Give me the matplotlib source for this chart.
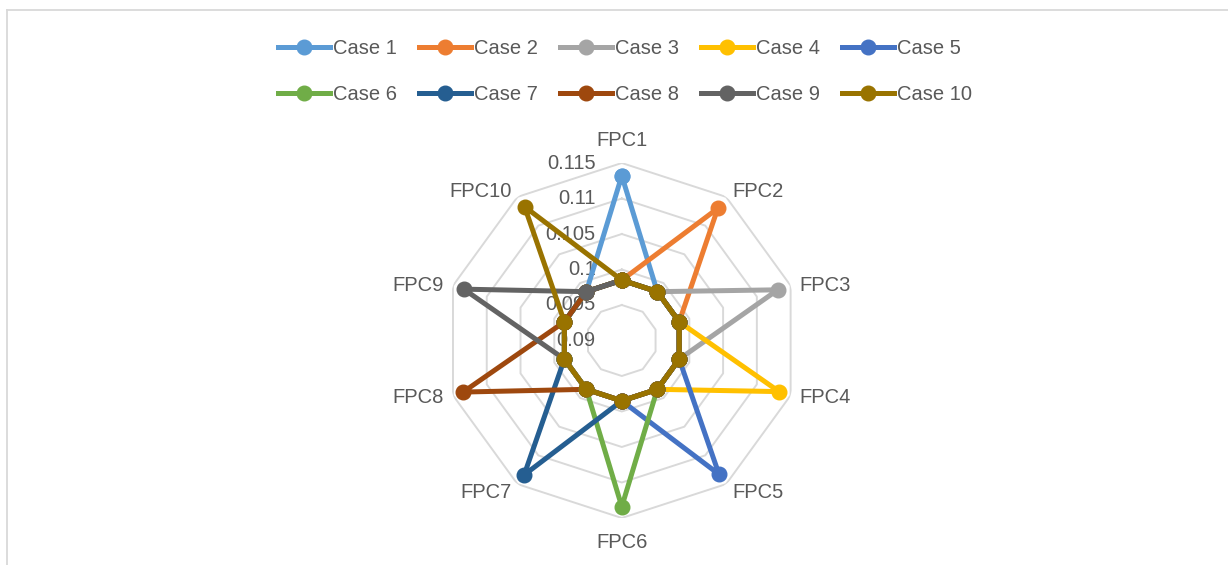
import numpy as np
import matplotlib.pyplot as plt
from matplotlib.lines import Line2D

plt.rcParams['font.family'] = ['Liberation Sans', 'DejaVu Sans']

categories = ['FPC1', 'FPC2', 'FPC3', 'FPC4', 'FPC5',
              'FPC6', 'FPC7', 'FPC8', 'FPC9', 'FPC10']

case1 = [0.1132, 0.0985, 0.0985, 0.0985, 0.0985, 0.0985, 0.0985, 0.0985, 0.0985, 0.0985]
case2 = [0.0985, 0.1130, 0.0985, 0.0985, 0.0985, 0.0985, 0.0985, 0.0985, 0.0985, 0.0985]
case3 = [0.0985, 0.0985, 0.1131, 0.0985, 0.0985, 0.0985, 0.0985, 0.0985, 0.0985, 0.0985]
case4 = [0.0985, 0.0985, 0.0985, 0.1133, 0.0985, 0.0985, 0.0985, 0.0985, 0.0985, 0.0985]
case5 = [0.0985, 0.0985, 0.0985, 0.0985, 0.1133, 0.0985, 0.0985, 0.0985, 0.0985, 0.0985]
case6 = [0.0985, 0.0985, 0.0985, 0.0985, 0.0985, 0.1134, 0.0985, 0.0985, 0.0985, 0.0985]
case7 = [0.0985, 0.0985, 0.0985, 0.0985, 0.0985, 0.0985, 0.1134, 0.0985, 0.0985, 0.0985]
case8 = [0.0985, 0.0985, 0.0985, 0.0985, 0.0985, 0.0985, 0.0985, 0.1135, 0.0985, 0.0985]
case9 = [0.0985, 0.0985, 0.0985, 0.0985, 0.0985, 0.0985, 0.0985, 0.0985, 0.1134, 0.0985]
case10 = [0.0985, 0.0985, 0.0985, 0.0985, 0.0985, 0.0985, 0.0985, 0.0985, 0.0985, 0.1133]

series = [case1, case2, case3, case4, case5, case6, case7, case8, case9, case10]
names = ['Case 1', 'Case 2', 'Case 3', 'Case 4', 'Case 5',
         'Case 6', 'Case 7', 'Case 8', 'Case 9', 'Case 10']
colors = ['#5B9BD5', '#ED7D31', '#A5A5A5', '#FFC000', '#4472C4',
          '#70AD47', '#255E91', '#9E480E', '#636363', '#997300']

levels = [0.09, 0.095, 0.1, 0.105, 0.11, 0.115]
level_labels = ['0.09', '0.095', '0.1', '0.105', '0.11', '0.115']

text_color = '#595959'
grid_color = '#D9D9D9'
fs = 14.5

fig = plt.figure(figsize=(12.28, 5.65), dpi=100)

# chart area border (top and left edges)
fig.add_artist(Line2D([7 / 1228, 1], [1 - 9.5 / 565] * 2, color=grid_color, lw=1.3))
fig.add_artist(Line2D([7 / 1228] * 2, [0, 1 - 9.5 / 565], color=grid_color, lw=1.3))

ax = fig.add_axes([0.3618, 0.0832, 0.2891, 0.6283], projection='polar')
ax.set_theta_zero_location('N')
ax.set_theta_direction(-1)
ax.set_rlim(levels[0], levels[-1])
ax.grid(False)
ax.set_xticks([])
ax.set_yticks([])
ax.spines['polar'].set_visible(False)
ax.patch.set_alpha(0)

theta = np.linspace(0, 2 * np.pi, len(categories), endpoint=False)
theta_c = np.append(theta, theta[0])

# decagon gridlines
for lv in levels[1:]:
    ax.plot(theta_c, [lv] * len(theta_c), color=grid_color, lw=1.4, zorder=1)

# radial value labels, just left of the FPC1 spoke
for lv, lab in zip(levels, level_labels):
    ax.annotate(lab, xy=(0, lv), xytext=(-26, 0), textcoords='offset pixels',
                ha='right', va='center', fontsize=fs, color=text_color, zorder=2)

# category labels round the outside
offsets = [(0, 23), (6, 5), (9, 0), (9, -2), (6, -8),
           (0, -25), (-6, -8), (-9, -2), (-9, 0), (-6, 5)]
for t, name, (dx, dy) in zip(theta, categories, offsets):
    s = np.sin(t)
    ha = 'center' if abs(s) < 1e-6 else ('left' if s > 0 else 'right')
    ax.annotate(name, xy=(t, levels[-1]), xytext=(dx, dy), textcoords='offset pixels',
                ha=ha, va='center', fontsize=fs, color=text_color)

handles = []
for i, (vals, name, c) in enumerate(zip(series, names, colors)):
    h, = ax.plot(theta_c, vals + vals[:1], color=c, lw=3.6, marker='o',
                 markersize=10.5, label=name, zorder=3 + i)
    handles.append(h)

# legend fills column by column, so interleave to get two rows of five
order = [0, 5, 1, 6, 2, 7, 3, 8, 4, 9]
fig.legend(handles=[handles[k] for k in order], loc='center',
           bbox_to_anchor=(0.509, 1 - 71.5 / 565),
           ncol=5, frameon=False, fontsize=fs, handlelength=2.6,
           handletextpad=0.15, columnspacing=1.08, labelspacing=1.3,
           labelcolor=text_color)

fig.savefig('out.png', dpi=100)
